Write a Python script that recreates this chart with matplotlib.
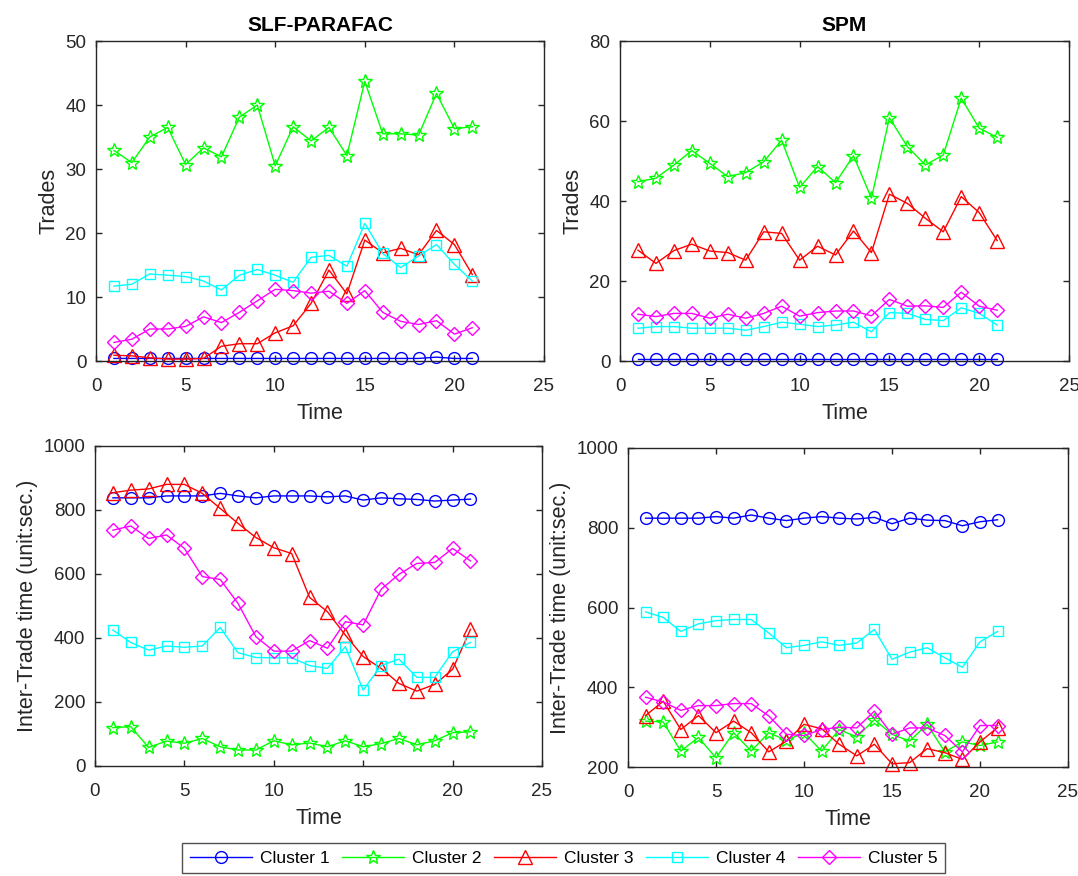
import matplotlib
matplotlib.use("Agg")
import matplotlib.pyplot as plt
import numpy as np

plt.rcParams['font.family'] = ['Liberation Sans', 'DejaVu Sans']

t = np.arange(1, 22)

# SLF-PARAFAC, trades
slf_trades_c1 = [0.4, 0.4, 0.4, 0.4, 0.4, 0.4, 0.4, 0.4, 0.4, 0.4, 0.4,
                 0.4, 0.4, 0.4, 0.4, 0.4, 0.4, 0.4, 0.6, 0.4, 0.4]
slf_trades_c2 = [32.9, 31.0, 35.0, 36.5, 30.7, 33.3, 31.9, 38.1, 40.0, 30.5, 36.6,
                 34.4, 36.5, 32.1, 43.7, 35.5, 35.5, 35.3, 41.8, 36.3, 36.6]
slf_trades_c3 = [0.9, 0.8, 0.5, 0.3, 0.3, 0.4, 2.3, 2.7, 2.7, 4.4, 5.5,
                 9.0, 14.2, 10.5, 18.9, 16.9, 17.6, 16.6, 20.4, 18.2, 13.5]
slf_trades_c4 = [11.7, 12.0, 13.6, 13.4, 13.2, 12.5, 11.1, 13.4, 14.3, 13.4, 12.3,
                 16.2, 16.5, 14.8, 21.5, 16.8, 14.6, 16.4, 18.2, 15.1, 12.5]
slf_trades_c5 = [2.9, 3.4, 5.0, 5.0, 5.4, 6.9, 6.0, 7.6, 9.4, 11.2, 11.0,
                 10.6, 10.9, 9.0, 11.0, 7.6, 6.2, 5.7, 6.3, 4.2, 5.2]

# SPM, trades
spm_trades_c1 = [0.5] * 21
spm_trades_c2 = [44.8, 45.7, 49.0, 52.6, 49.4, 46.1, 47.1, 49.8, 55.2, 43.4, 48.6,
                 44.6, 51.3, 40.7, 60.8, 53.6, 49.0, 51.5, 65.7, 58.2, 55.9]
spm_trades_c3 = [27.7, 24.4, 27.6, 29.2, 27.5, 27.1, 25.2, 32.3, 31.9, 25.2, 28.7,
                 26.5, 32.5, 27.1, 41.7, 39.4, 35.7, 32.3, 41.1, 37.1, 30.1]
spm_trades_c4 = [8.2, 8.6, 8.6, 8.2, 8.2, 8.2, 7.7, 8.6, 9.7, 9.2, 8.6,
                 9.0, 9.7, 7.3, 12.1, 11.9, 10.4, 10.1, 13.3, 11.9, 9.0]
spm_trades_c5 = [11.7, 11.1, 11.9, 11.9, 10.7, 11.7, 10.7, 11.9, 13.7, 11.2, 12.1,
                 12.5, 12.5, 11.3, 15.4, 13.7, 13.8, 13.4, 17.2, 13.7, 12.7]

# SLF-PARAFAC, inter-trade time
slf_itt_c1 = [838, 838, 838, 844, 844, 844, 852, 844, 838, 844, 844,
              844, 841, 844, 831, 838, 835, 833, 828, 831, 834]
slf_itt_c2 = [120, 123, 58, 78, 71, 86, 60, 50, 50, 79, 66,
              72, 60, 79, 60, 70, 86, 66, 79, 104, 107]
slf_itt_c3 = [854, 862, 866, 880, 880, 852, 805, 758, 714, 682, 664,
              527, 482, 409, 342, 305, 258, 234, 255, 302, 427]
slf_itt_c4 = [425, 386, 362, 375, 371, 375, 433, 354, 339, 338, 338,
              314, 305, 373, 237, 314, 334, 277, 277, 357, 386]
slf_itt_c5 = [737, 750, 711, 722, 680, 592, 583, 508, 404, 359, 359,
              392, 368, 451, 441, 552, 599, 633, 636, 680, 641]

# SPM, inter-trade time
spm_itt_c1 = [824, 824, 824, 824, 828, 824, 832, 824, 818, 824, 828,
              824, 822, 826, 810, 824, 819, 818, 805, 815, 820]
spm_itt_c2 = [315, 313, 240, 274, 223, 286, 240, 286, 267, 286, 240,
              294, 275, 319, 282, 265, 307, 238, 263, 254, 263]
spm_itt_c3 = [329, 365, 294, 329, 286, 315, 286, 238, 265, 307, 296,
              257, 228, 257, 208, 211, 246, 236, 219, 263, 299]
spm_itt_c4 = [589, 575, 540, 559, 567, 570, 570, 536, 499, 505, 514,
              505, 511, 545, 470, 488, 499, 474, 450, 514, 540]
spm_itt_c5 = [375, 363, 342, 354, 354, 359, 359, 328, 282, 279, 294,
              300, 298, 340, 282, 298, 298, 279, 238, 304, 304]

labels = ['Cluster 1', 'Cluster 2', 'Cluster 3', 'Cluster 4', 'Cluster 5']
colors = ['#0000FF', '#00FF00', '#FF0000', '#00FFFF', '#FF00FF']
markers = ['o', '*', '^', 's', 'D']
msizes = [8.5, 10.5, 10, 7.5, 7.5]

panels = [
    ([slf_trades_c1, slf_trades_c2, slf_trades_c3, slf_trades_c4, slf_trades_c5],
     [96, 41, 448, 320], (0, 50), np.arange(0, 51, 10), 'Trades', 'SLF-PARAFAC'),
    ([spm_trades_c1, spm_trades_c2, spm_trades_c3, spm_trades_c4, spm_trades_c5],
     [620, 41, 449, 320], (0, 80), np.arange(0, 81, 20), 'Trades', 'SPM'),
    ([slf_itt_c1, slf_itt_c2, slf_itt_c3, slf_itt_c4, slf_itt_c5],
     [95, 446, 447, 320], (0, 1000), np.arange(0, 1001, 200), 'Inter-Trade time (unit:sec.)', None),
    ([spm_itt_c1, spm_itt_c2, spm_itt_c3, spm_itt_c4, spm_itt_c5],
     [628, 448, 440, 319], (200, 1000), np.arange(200, 1001, 200), 'Inter-Trade time (unit:sec.)', None),
]

W, H = 1078, 876
fig = plt.figure(figsize=(W / 100, H / 100), dpi=100)
dark = '#262626'

handles = []
for series, (px, py, pw, ph), ylim, yt, ylab, title in panels:
    ax = fig.add_axes([px / W, 1 - (py + ph) / H, pw / W, ph / H])
    hs = []
    for ys, c, m, ms, lab in zip(series, colors, markers, msizes, labels):
        h, = ax.plot(t, ys, color=c, marker=m, markersize=ms, markerfacecolor='none',
                     markeredgecolor=c, markeredgewidth=1.0, linewidth=1.0, label=lab,
                     clip_on=False)
        hs.append(h)
    handles = hs
    ax.set_xlim(0, 25)
    ax.set_ylim(*ylim)
    ax.set_xticks(np.arange(0, 26, 5))
    ax.set_yticks(yt)
    ax.tick_params(direction='in', top=True, right=True, length=4, width=1.0,
                   labelsize=13.5, colors=dark)
    ax.tick_params(axis='x', pad=12)
    ax.tick_params(axis='y', pad=7)
    for s in ax.spines.values():
        s.set_color(dark)
        s.set_linewidth(1.0)
    ax.set_xlabel('Time', fontsize=15.5, color=dark, labelpad=6)
    ax.set_ylabel(ylab, fontsize=15.5, color=dark)
    if title:
        ax.set_title(title, fontsize=15, fontweight='bold', color='black', pad=7)

leg = fig.legend(handles, labels, loc='center', ncol=5,
                 bbox_to_anchor=(563.5 / W, 1 - 858 / H), fontsize=12.5,
                 handlelength=3.6, columnspacing=0.7, handletextpad=0.45,
                 fancybox=False, frameon=True, borderpad=0.45)
leg.get_frame().set_edgecolor(dark)
leg.get_frame().set_linewidth(1.0)

fig.savefig('out.png', dpi=100)
